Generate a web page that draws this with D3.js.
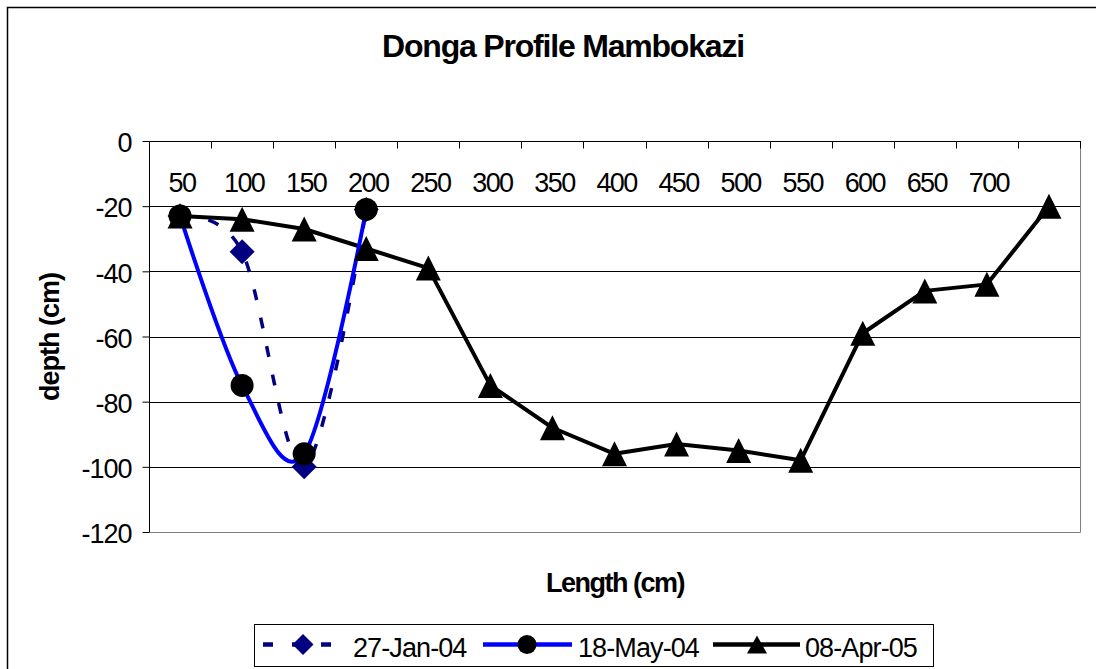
<!DOCTYPE html>
<html>
<head>
<meta charset="utf-8">
<script src="https://cdn.jsdelivr.net/npm/d3@7"></script>
<style>
  body { margin: 0; background: #fff; }
  svg { display: block; font-family: Arial, "Liberation Sans", sans-serif; }
</style>
</head>
<body>
<script>
const width = 1096;
const height = 669;

// categories along the profile (last one has no label in the original)
const lengths = ['50', '100', '150', '200', '250', '300', '350', '400', '450', '500', '550', '600', '650', '700', ''];
const depthTicks = [0, -20, -40, -60, -80, -100, -120];

// depth readings (cm), by category index
const jan04 = [-23, -34, -100, -21];
const may04 = [-23, -75, -96, -21];
const apr05 = [-23, -24, -27, -33, -39, -75, -88, -96, -93, -95, -98, -59, -46, -44, -20];

const seriesNames = ['27-Jan-04', '18-May-04', '08-Apr-05'];

// plot box
const plotLeft = 149, plotRight = 1080, plotTop = 141, plotBottom = 532;

const svg = d3.select('body')
  .append('svg')
  .attr('width', width)
  .attr('height', height);

// outer chart frame (right/bottom edges run off the picture)
svg.append('rect')
  .attr('x', 7.5).attr('y', 7.5)
  .attr('width', 1120).attr('height', 720)
  .attr('fill', 'none')
  .attr('stroke', '#000')
  .attr('stroke-width', 1.5);

const x = d3.scaleBand()
  .domain(d3.range(lengths.length))
  .range([plotLeft, plotRight])
  .padding(0);

const y = d3.scaleLinear()
  .domain([-120, 0])
  .range([plotBottom, plotTop]);

const cx = i => x(i) + x.bandwidth() / 2;

// gridlines
svg.append('g')
  .selectAll('line')
  .data(depthTicks.filter(d => d !== 0 && d !== -120))
  .enter()
  .append('line')
  .attr('x1', plotLeft).attr('x2', plotRight)
  .attr('y1', d => Math.round(y(d)) + 0.5)
  .attr('y2', d => Math.round(y(d)) + 0.5)
  .attr('stroke', '#000')
  .attr('stroke-width', 1);

// plot area border (right + bottom, grey)
svg.append('path')
  .attr('d', `M${plotRight + 0.5},${plotTop} V${plotBottom + 0.5} H${plotLeft}`)
  .attr('fill', 'none')
  .attr('stroke', '#808080')
  .attr('stroke-width', 1);

// y axis
const yAxis = svg.append('g')
  .attr('transform', `translate(${plotLeft + 0.5},0)`)
  .call(d3.axisLeft(y)
    .tickValues(depthTicks)
    .tickSize(7)
    .tickPadding(11)
    .tickFormat(d => String(d)));
yAxis.select('.domain').attr('stroke', '#000').attr('d', `M0,${plotTop}V${plotBottom}`);
yAxis.selectAll('.tick line').attr('stroke', '#000');
yAxis.selectAll('text')
  .attr('font-size', 27)
  .attr('font-family', 'Arial, "Liberation Sans", sans-serif')
  .attr('fill', '#000')
  .attr('letter-spacing', -1)
  .attr('dy', '0.4em');

// x axis sits at depth 0, labels hang below it
const xAxis = svg.append('g')
  .attr('transform', `translate(0,${Math.round(y(0)) + 0.5})`)
  .call(d3.axisBottom(x)
    .tickSize(0)
    .tickPadding(31)
    .tickFormat(i => lengths[i]));
xAxis.select('.domain').remove();
xAxis.selectAll('text')
  .attr('font-size', 27)
  .attr('font-family', 'Arial, "Liberation Sans", sans-serif')
  .attr('fill', '#000')
  .attr('letter-spacing', -1.6)
  .attr('dx', 2);

xAxis.append('line')
  .attr('x1', plotLeft).attr('x2', plotRight + 1)
  .attr('stroke', '#000');

// Excel-style tick marks between categories
xAxis.selectAll('.bound')
  .data(d3.range(lengths.length + 1))
  .enter()
  .append('line')
  .attr('class', 'bound')
  .attr('x1', i => Math.round(i < lengths.length ? x(i) : plotRight) + 0.5)
  .attr('x2', i => Math.round(i < lengths.length ? x(i) : plotRight) + 0.5)
  .attr('y1', 0).attr('y2', 7)
  .attr('stroke', '#000');

// marker shapes
const triPath = (w, h) => `M0,${-h / 2}L${w / 2},${h / 2}L${-w / 2},${h / 2}Z`;
const diaPath = s => `M0,${-s}L${s},0L0,${s}L${-s},0Z`;

const smooth = d3.line()
  .x((d, i) => cx(i))
  .y(d => y(d))
  .curve(d3.curveCatmullRom.alpha(0));

const straight = d3.line()
  .x((d, i) => cx(i))
  .y(d => y(d));

const plot = svg.append('g');

// 08-Apr-05
plot.append('path')
  .attr('d', straight(apr05))
  .attr('fill', 'none')
  .attr('stroke', '#000')
  .attr('stroke-width', 4)
  .attr('stroke-linejoin', 'round');

// 27-Jan-04
plot.append('path')
  .attr('d', smooth(jan04))
  .attr('fill', 'none')
  .attr('stroke', '#000080')
  .attr('stroke-width', 3.5)
  .attr('stroke-dasharray', '11,18');

// 18-May-04
plot.append('path')
  .attr('d', smooth(may04))
  .attr('fill', 'none')
  .attr('stroke', '#0000ff')
  .attr('stroke-width', 4);

plot.selectAll('.tri')
  .data(apr05)
  .enter()
  .append('path')
  .attr('class', 'tri')
  .attr('transform', (d, i) => `translate(${cx(i)},${y(d)})`)
  .attr('d', triPath(25, 25))
  .attr('fill', '#000');

plot.selectAll('.dia')
  .data(jan04)
  .enter()
  .append('path')
  .attr('class', 'dia')
  .attr('transform', (d, i) => `translate(${cx(i)},${y(d)})`)
  .attr('d', diaPath(12.5))
  .attr('fill', '#000080');

plot.selectAll('.dot')
  .data(may04)
  .enter()
  .append('circle')
  .attr('class', 'dot')
  .attr('cx', (d, i) => cx(i))
  .attr('cy', d => y(d))
  .attr('r', 11.5)
  .attr('fill', '#000');

// titles
svg.append('text')
  .attr('x', 563).attr('y', 57)
  .attr('text-anchor', 'middle')
  .attr('font-size', 32)
  .attr('font-weight', 'bold')
  .attr('letter-spacing', -1.2)
  .text('Donga Profile Mambokazi');

svg.append('text')
  .attr('transform', 'translate(59,337) rotate(-90)')
  .attr('text-anchor', 'middle')
  .attr('font-size', 27)
  .attr('font-weight', 'bold')
  .attr('letter-spacing', -1)
  .text('depth (cm)');

svg.append('text')
  .attr('x', 615).attr('y', 592)
  .attr('text-anchor', 'middle')
  .attr('font-size', 27)
  .attr('font-weight', 'bold')
  .attr('letter-spacing', -1.5)
  .text('Length (cm)');

// legend
const legend = svg.append('g');
legend.append('rect')
  .attr('x', 254.5).attr('y', 624.5)
  .attr('width', 679).attr('height', 42)
  .attr('fill', '#fff')
  .attr('stroke', '#000')
  .attr('stroke-width', 1);

const ly = 644.5;
const items = [
  { x0: 263, x1: 343, mark: 303, text: 353, color: '#000080', dash: '10,19' },
  { x0: 483, x1: 572, mark: 527, text: 578, color: '#0000ff', dash: null },
  { x0: 713, x1: 800, mark: 757, text: 805, color: '#000', dash: null }
];

items.forEach((it, k) => {
  legend.append('line')
    .attr('x1', it.x0).attr('x2', it.x1)
    .attr('y1', ly).attr('y2', ly)
    .attr('stroke', it.color)
    .attr('stroke-width', 4.5)
    .attr('stroke-dasharray', it.dash);
  const m = legend.append('g').attr('transform', `translate(${it.mark},${ly})`);
  if (k === 0) m.append('path').attr('d', diaPath(10.5)).attr('fill', '#000080');
  if (k === 1) m.append('circle').attr('r', 9.5).attr('fill', '#000');
  if (k === 2) m.append('path').attr('d', triPath(20, 18)).attr('fill', '#000');
  legend.append('text')
    .attr('x', it.text).attr('y', 657)
    .attr('font-size', 27)
    .attr('letter-spacing', -0.9)
    .text(seriesNames[k]);
});
</script>
</body>
</html>
